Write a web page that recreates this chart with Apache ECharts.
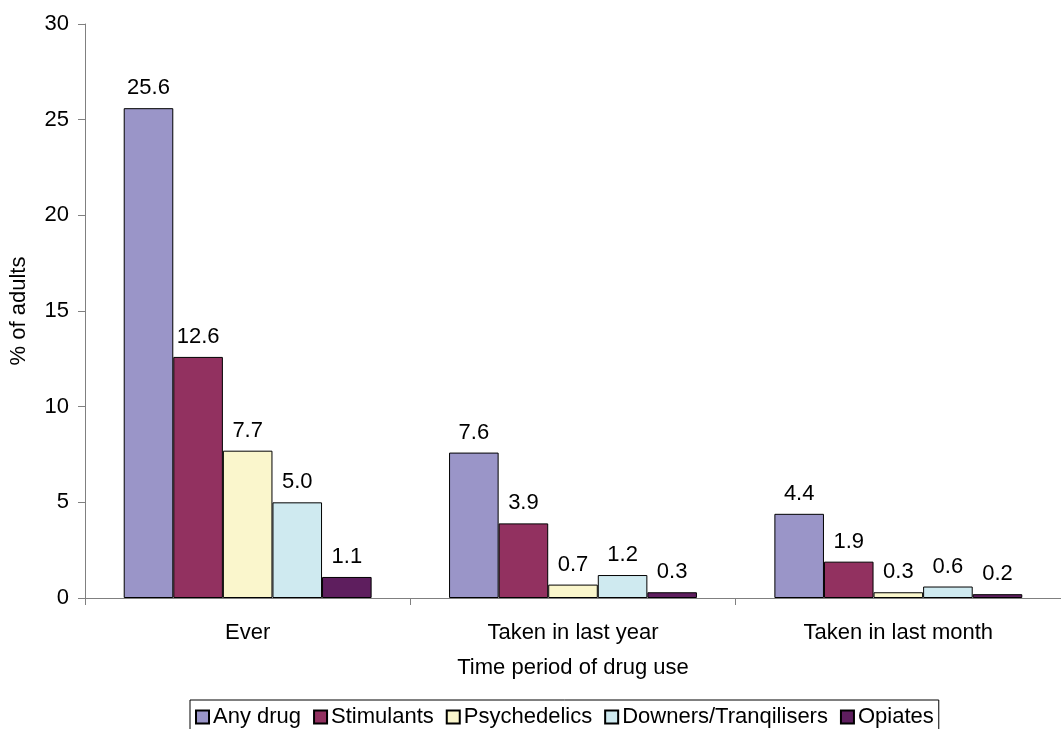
<!DOCTYPE html>
<html>
<head>
<meta charset="utf-8">
<script src="https://cdn.jsdelivr.net/npm/echarts@6/dist/echarts.min.js"></script>
<style>
  html, body { margin: 0; padding: 0; background: #fff; }
  #chart { width: 1061px; height: 729px; }
</style>
</head>
<body>
<div id="chart"></div>
<script>
// Time periods along the x axis
const periods = ['Ever', 'Taken in last year', 'Taken in last month'];

// Percentage of adults by drug type
const anyDrug = [25.6, 7.6, 4.4];
const stimulants = [12.6, 3.9, 1.9];
const psychedelics = [7.7, 0.7, 0.3];
const downers = [5.0, 1.2, 0.6];
const opiates = [1.1, 0.3, 0.2];

const seriesNames = ['Any drug', 'Stimulants', 'Psychedelics', 'Downers/Tranqilisers', 'Opiates'];
const seriesColors = ['#9A95C8', '#923160', '#FAF6CC', '#CFEAF0', '#5E1E5E'];
const seriesValues = [anyDrug, stimulants, psychedelics, downers, opiates];

const yTicks = [0, 5, 10, 15, 20, 25, 30];

const FONT = '"Liberation Sans", Arial, sans-serif';
const FS = 22;

const chart = echarts.init(document.getElementById('chart'), null, { renderer: 'canvas' });

chart.setOption({
  backgroundColor: '#ffffff',
  animation: false,
  textStyle: { fontFamily: FONT, color: '#000' },
  grid: { left: 84, top: 24, right: -7, bottom: 131, containLabel: false },
  legend: {
    data: seriesNames,
    left: 190,
    top: 700,
    orient: 'horizontal',
    itemWidth: 13,
    itemHeight: 13,
    itemGap: 12,
    padding: [6, 5, 4, 5],
    borderColor: '#000',
    borderWidth: 1,
    icon: 'rect',
    textStyle: { fontFamily: FONT, fontSize: FS, color: '#000', padding: [0, 0, 0, -1] }
  },
  xAxis: {
    type: 'category',
    data: periods,
    name: 'Time period of drug use',
    nameLocation: 'middle',
    nameGap: 59,
    nameTextStyle: { fontFamily: FONT, fontSize: FS, color: '#000' },
    axisLine: { lineStyle: { color: '#808080', width: 1 } },
    axisTick: { show: true, alignWithLabel: false, length: 7, lineStyle: { color: '#808080' } },
    axisLabel: { fontFamily: FONT, fontSize: FS, color: '#000', margin: 24 },
    splitLine: { show: false }
  },
  yAxis: {
    type: 'value',
    min: yTicks[0],
    max: yTicks[yTicks.length - 1],
    interval: 5,
    name: '% of adults',
    nameLocation: 'middle',
    nameGap: 55,
    nameTextStyle: { fontFamily: FONT, fontSize: FS, color: '#000' },
    axisLine: { show: true, lineStyle: { color: '#808080', width: 1 } },
    axisTick: { show: true, length: 7, lineStyle: { color: '#808080' } },
    axisLabel: { fontFamily: FONT, fontSize: FS, color: '#000', margin: 16 },
    splitLine: { show: false }
  },
  series: seriesNames.map((name, i) => ({
    name: name,
    type: 'bar',
    data: seriesValues[i],
    barGap: '0%',
    barCategoryGap: '23.8%',
    itemStyle: { color: seriesColors[i], borderColor: '#000', borderWidth: 1 },
    label: {
      show: true,
      position: 'top',
      distance: 9,
      fontFamily: FONT,
      fontSize: FS,
      color: '#000',
      formatter: p => p.value.toFixed(1)
    }
  }))
});
</script>
</body>
</html>
